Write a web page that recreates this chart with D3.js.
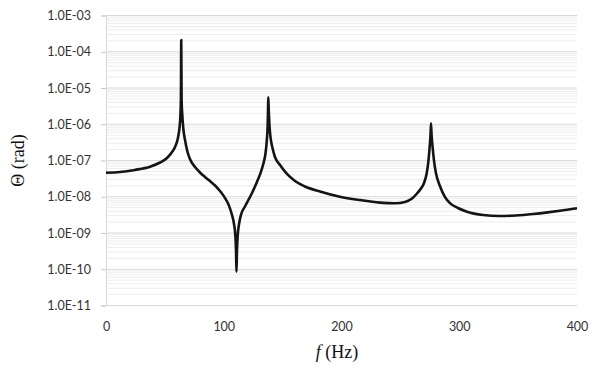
<!DOCTYPE html>
<meta charset="utf-8">
<style>
body { margin: 0; background: #fff; }
svg { display: block; }
.tick text { font-family: Lato, "Liberation Sans", sans-serif; font-size: 12.5px; fill: #333; }
.title { font-family: "Liberation Serif", "DejaVu Serif", serif; font-size: 18px; fill: #111; }
</style>
<svg width="600" height="377"></svg>
<script src="https://d3js.org/d3.v7.min.js"></script>
<script>

// frequency (Hz) and rotation amplitude (rad)
var freqHz = [
  0, 11.9, 24.6, 37.4, 45.9, 51.8, 56.1, 59.0, 61.1, 62.4, 63.2, 63.6, 63.9,
  64.2, 64.8, 65.6, 67.1, 68.8, 71.3, 75.6, 79.8, 84.1, 88.3, 92.6, 96.8,
  101.1, 104.5, 107.0, 108.7, 109.8, 110.4, 110.8, 111.25, 111.9, 113.0, 114.6,
  118.0, 124.0, 128.2, 131.2, 133.8, 135.5, 136.6, 137.3, 137.6, 137.8, 138.2,
  138.8, 139.7, 141.4, 143.5, 147.8, 153.7, 160.5, 169.0, 181.7, 198.7, 215.7,
  232.7, 245.4, 253.9, 259.9, 264.1, 267.5, 270.1, 272.4, 273.9, 275.0, 275.6,
  276.0, 276.5, 277.2, 278.5, 280.2, 283.6, 287.9, 292.1, 298.9, 306.6, 320.2,
  334.6, 348, 362.6, 375, 385.6, 400
];
var thetaRad = [
  4.6e-8, 4.8e-8, 5.5e-8, 6.75e-8, 8.8e-8, 1.17e-7, 1.71e-7, 2.5e-7, 4.2e-7, 7.9e-7, 1.8e-6, 4.7e-6, 2.1e-4,
  4.7e-6, 1.8e-6, 7.9e-7, 3.7e-7, 1.95e-7, 1.1e-7, 6.6e-8, 4.67e-8, 3.5e-8, 2.7e-8, 2.04e-8, 1.44e-8,
  9.2e-9, 5.6e-9, 3.14e-9, 1.77e-9, 8.8e-10, 3.4e-10, 8.5e-11, 3.4e-10, 8.8e-10, 1.77e-9, 3.14e-9,
  5.4e-9, 1.27e-8, 2.55e-8, 4.5e-8, 8.5e-8, 1.61e-7, 3.7e-7, 9.5e-7, 2.5e-6, 5.5e-6, 2.5e-6,
  9.5e-7, 4.4e-7, 2.2e-7, 1.25e-7, 7.5e-8, 4.25e-8, 2.72e-8, 1.92e-8, 1.4e-8, 1.0e-8, 8.1e-9,
  6.9e-9, 6.6e-9, 7.2e-9, 8.9e-9, 1.23e-8, 1.69e-8, 2.4e-8, 4.5e-8, 1.03e-7, 2.7e-7, 5.0e-7,
  1.06e-6, 5.0e-7, 2.7e-7, 1.03e-7, 4.5e-8, 1.98e-8, 9.8e-9, 6.7e-9, 4.9e-9, 3.87e-9, 3.14e-9,
  2.94e-9, 3.05e-9, 3.34e-9, 3.7e-9, 4.1e-9, 4.8e-9
];

var xTicks = [0, 100, 200, 300, 400];
var yTicks = [1e-3, 1e-4, 1e-5, 1e-6, 1e-7, 1e-8, 1e-9, 1e-10, 1e-11];
var yTickLabels = ["1.0E-03", "1.0E-04", "1.0E-05", "1.0E-06", "1.0E-07", "1.0E-08", "1.0E-09", "1.0E-10", "1.0E-11"];

var svg = d3.select("svg"),
    margin = {top: 15.5, right: 23, bottom: 71.5, left: 106},
    width = +svg.attr("width") - margin.left - margin.right,
    height = +svg.attr("height") - margin.top - margin.bottom;

var g = svg.append("g").attr("transform", "translate(" + margin.left + "," + margin.top + ")");

var x = d3.scaleLinear().domain([0, 400]).range([0, width]);
var y = d3.scaleLog().domain([1e-11, 1e-3]).range([height, 0]);

// minor gridlines (2..9 in every decade)
var minor = [];
yTicks.slice(0, -1).forEach(function(t) {
  for (var k = 2; k <= 9; k++) minor.push(t / 10 * k);
});

g.append("g").selectAll("line")
  .data(minor)
  .enter().append("line")
    .attr("x1", 0).attr("x2", width)
    .attr("y1", function(d) { return y(d); })
    .attr("y2", function(d) { return y(d); })
    .attr("stroke", "#ededed")
    .attr("stroke-width", 1);

g.append("g").selectAll("line")
  .data(yTicks)
  .enter().append("line")
    .attr("x1", 0).attr("x2", width)
    .attr("y1", function(d) { return y(d); })
    .attr("y2", function(d) { return y(d); })
    .attr("stroke", "#d9d9d9")
    .attr("stroke-width", 1);

var yAxis = g.append("g")
    .call(d3.axisLeft(y)
      .tickValues(yTicks)
      .tickSize(5)
      .tickPadding(10)
      .tickFormat(function(d, i) { return yTickLabels[i]; }));
yAxis.select(".domain").attr("stroke", "#d9d9d9");
yAxis.selectAll(".tick line").attr("stroke", "#c8c8c8");

var xAxis = g.append("g")
    .attr("transform", "translate(0," + height + ")")
    .call(d3.axisBottom(x)
      .tickValues(xTicks)
      .tickSize(0)
      .tickPadding(17)
      .tickFormat(d3.format("d")));
xAxis.select(".domain").remove();

var line = d3.line()
    .x(function(d) { return x(d[0]); })
    .y(function(d) { return y(d[1]); })
    .curve(d3.curveMonotoneX);

g.append("path")
    .datum(d3.zip(freqHz, thetaRad))
    .attr("fill", "none")
    .attr("stroke", "#141414")
    .attr("stroke-width", 2.6)
    .attr("stroke-linejoin", "round")
    .attr("d", line);

// axis titles
svg.append("text")
    .attr("class", "title")
    .attr("transform", "translate(18," + (margin.top + height / 2) + ") rotate(-90)")
    .attr("text-anchor", "middle")
    .attr("dominant-baseline", "central")
    .text("\u0398 (rad)");

var xt = svg.append("text")
    .attr("class", "title")
    .attr("x", 337)
    .attr("y", 358)
    .attr("text-anchor", "middle");
xt.append("tspan").attr("font-style", "italic").text("f");
xt.append("tspan").text(" (Hz)");

</script>
